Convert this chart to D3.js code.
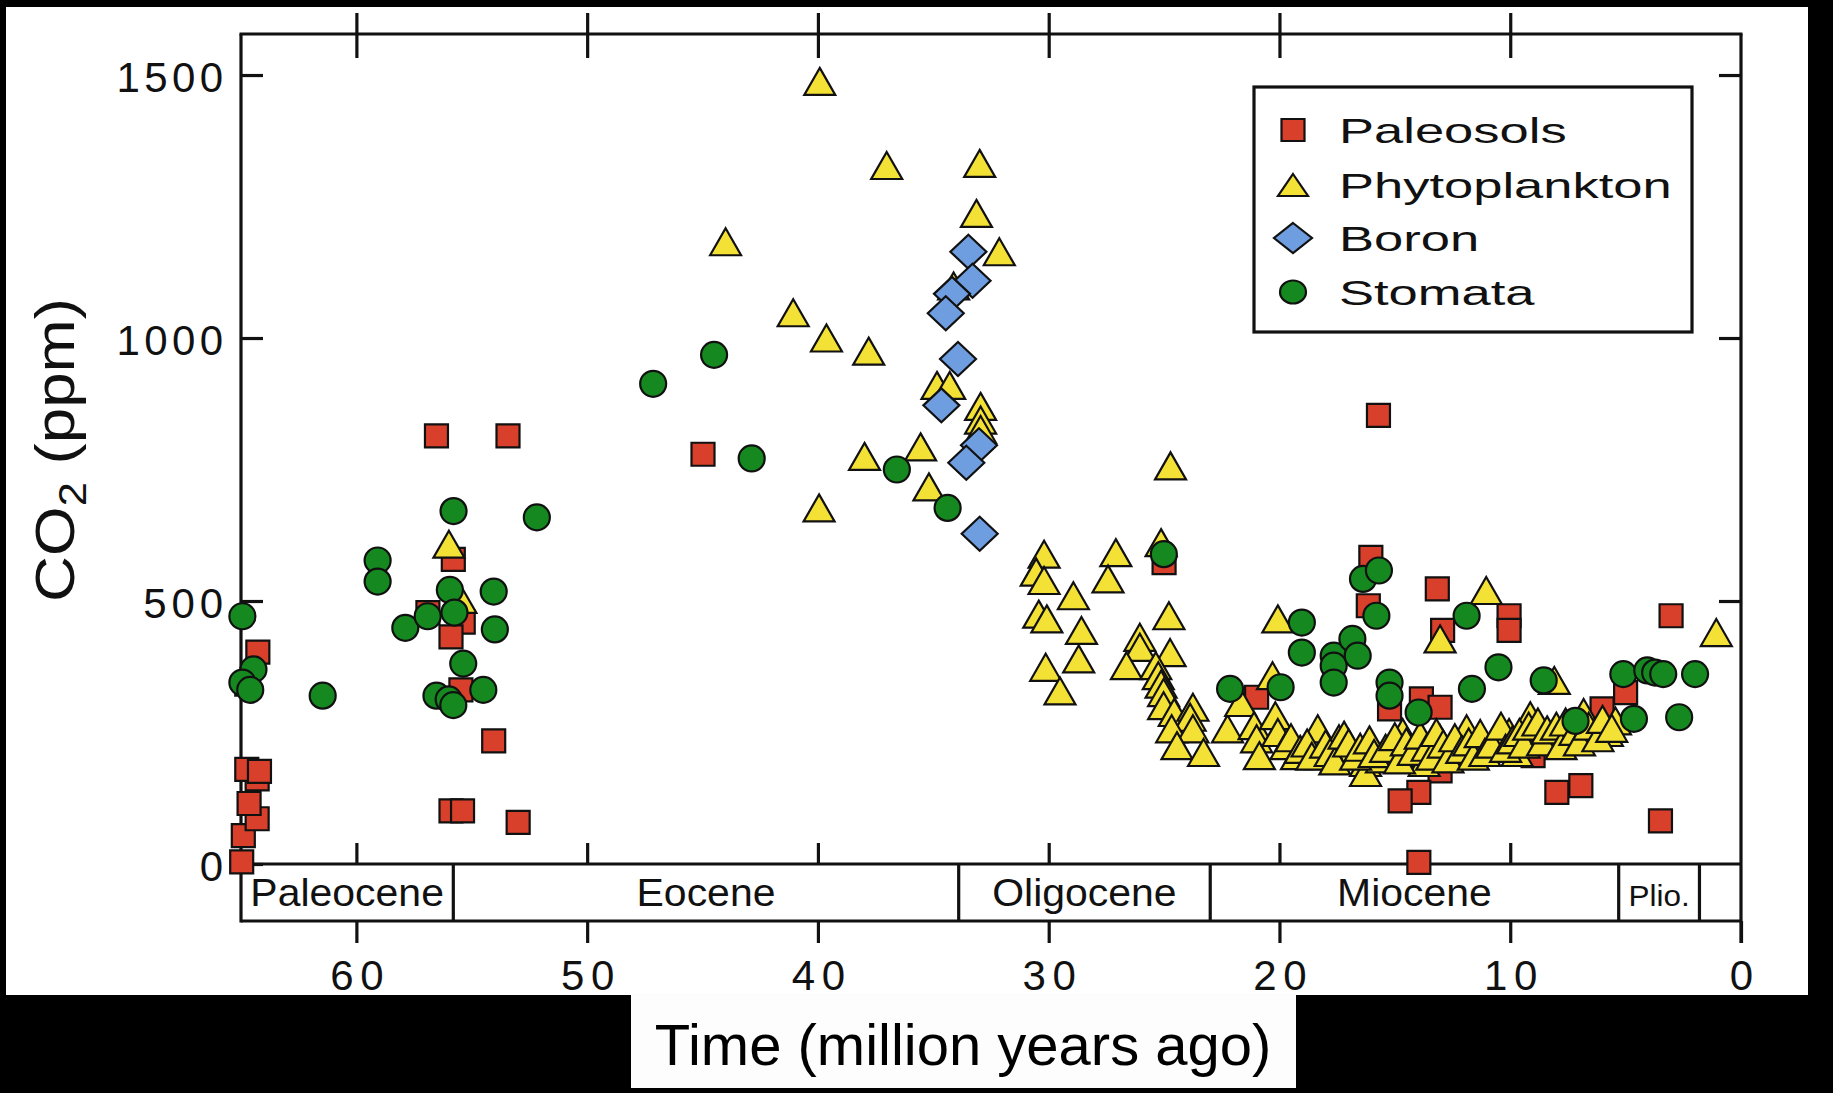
<!DOCTYPE html>
<html>
<head>
<meta charset="utf-8">
<script src="https://cdn.jsdelivr.net/npm/d3@7"></script>
<style>
  html, body { margin: 0; padding: 0; background: #000; }
  svg { display: block; font-family: "Liberation Sans", Arial, Helvetica, sans-serif; }
</style>
</head>
<body>
<svg id="chart" width="1833" height="1093"></svg>
<script>
// CO2 proxy records over the Cenozoic: [age (Ma), CO2 (ppm)]
const paleosols = [
  [64.97, 4], [64.9, 54], [64.3, 86], [64.65, 115], [64.3, 162], [64.75, 180], [64.2, 176],
  [64.75, 342], [64.27, 403],
  [56.53, 814], [53.43, 814], [55.8, 579], [56.9, 478], [55.37, 460], [55.9, 432], [55.47, 331],
  [54.05, 234], [55.9, 101], [55.4, 101], [52.99, 79],
  [44.98, 779], [25.0, 573],
  [20.99, 317], [15.71, 853], [16.04, 583], [16.15, 491], [13.16, 523], [10.05, 472], [10.05, 444],
  [12.93, 444], [15.23, 295], [13.85, 314], [13.04, 298], [14.42, 206], [13.04, 177], [13.96, 136],
  [14.77, 120], [9.01, 206], [7.98, 136], [6.94, 149], [6.02, 295], [5.0, 326], [3.03, 472],
  [3.49, 82], [13.96, 3]
];

const phytoplankton = [
  [55.99, 608], [55.47, 503],
  [39.92, 1488], [37.02, 1328], [32.99, 1332], [33.13, 1237], [44.0, 1183], [32.14, 1164],
  [34.12, 1099], [41.07, 1048], [39.63, 1000], [37.8, 975], [34.84, 910], [34.29, 910],
  [32.95, 870], [32.95, 844], [32.95, 826], [35.55, 793], [37.98, 775], [35.19, 717], [39.95, 677],
  [24.72, 757], [30.2, 589], [27.09, 592], [25.13, 611], [30.54, 555], [30.2, 539], [27.43, 542],
  [28.93, 510], [30.43, 475], [30.08, 466], [24.79, 472], [28.58, 444], [26.05, 431], [26.05, 412],
  [24.74, 402], [28.7, 390], [26.63, 377], [30.13, 374], [29.51, 329], [25.36, 377], [25.25, 358],
  [25.13, 342], [25.02, 326], [25.02, 301], [24.56, 288], [23.75, 298], [23.87, 279], [24.67, 257],
  [23.75, 257], [24.44, 225], [23.29, 212],
  [22.25, 257], [21.68, 307], [21.1, 263], [20.99, 238], [20.87, 206], [20.3, 358], [20.07, 466],
  [20.18, 282], [20.07, 250], [19.72, 225], [19.26, 206], [18.34, 257], [18.22, 206], [17.42, 238],
  [16.96, 212], [16.27, 193], [16.27, 174], [15.58, 200], [15.12, 225], [14.66, 250], [13.97, 212],
  [13.73, 193], [13.04, 238], [13.04, 428], [12.47, 212], [11.89, 257], [11.43, 225], [11.04, 520],
  [10.62, 238], [10.05, 250], [9.7, 212], [9.13, 282], [8.9, 250], [8.2, 238], [8.09, 349],
  [7.52, 244], [6.82, 288], [6.36, 250], [5.79, 250], [5.44, 272], [1.07, 440],
  [19.5, 240], [19.1, 218], [18.8, 230], [18.6, 205], [18.0, 228], [17.8, 212], [17.6, 196],
  [17.2, 245], [17.0, 230], [16.7, 205], [16.5, 222], [16.1, 236], [15.9, 210], [15.4, 220],
  [15.0, 242], [14.8, 198], [14.5, 232], [14.2, 214], [13.9, 245], [13.6, 222], [13.4, 205],
  [13.2, 250], [12.9, 228], [12.7, 200], [12.4, 240], [12.1, 218], [11.8, 232], [11.6, 205],
  [11.3, 248], [11.1, 212], [10.8, 228], [10.4, 262], [10.2, 220], [9.9, 236], [9.6, 250],
  [9.4, 228], [9.2, 262], [8.8, 270], [8.6, 232], [8.4, 255], [8.0, 262], [7.8, 225], [7.6, 270],
  [7.2, 252], [7.0, 232], [6.6, 262], [6.2, 240], [6.0, 275], [5.6, 258]
];

const boron = [
  [33.48, 1164], [33.3, 1109], [34.19, 1084], [34.46, 1047], [33.93, 960], [34.65, 872],
  [33.02, 796], [33.57, 763], [32.99, 628]
];

const stomata = [
  [64.94, 471], [64.46, 370], [64.94, 345], [64.6, 331], [61.46, 320], [59.08, 577], [59.08, 537],
  [57.88, 449], [56.91, 471], [55.95, 521], [55.75, 478], [55.79, 671], [54.05, 518], [54.0, 446],
  [55.37, 381], [56.53, 320], [56.0, 313], [55.8, 302], [54.5, 331], [52.18, 659], [47.14, 913],
  [44.5, 968], [42.87, 771], [36.58, 750], [34.38, 677], [25.01, 589], [22.14, 333], [19.95, 336],
  [19.03, 459], [19.03, 402], [17.65, 396], [17.65, 377], [17.65, 345], [16.84, 428], [16.61, 396],
  [16.38, 542], [15.69, 558], [15.8, 472], [15.23, 345], [15.23, 320], [13.97, 288], [11.89, 472],
  [11.66, 333], [10.51, 374], [8.55, 349], [7.17, 272], [5.1, 361], [4.64, 276], [4.06, 368],
  [3.72, 364], [3.37, 361], [2.68, 279], [1.99, 361]
];

const seriesNames = ["Paleosols", "Phytoplankton", "Boron", "Stomata"];
const xTicks = [60, 50, 40, 30, 20, 10, 0];
const yTicks = [0, 500, 1000, 1500];
const epochNames = ["Paleocene", "Eocene", "Oligocene", "Miocene", "Plio.", ""];
const epochBounds = [65, 55.8, 33.9, 23.0, 5.3, 1.8, 0];

// ---- layout ----
const P = { left: 241, right: 1741, top: 34, bottom: 864, band: 921 };
const INK = "#111";
const LW = 3.2;

const svg = d3.select("#chart");

// paper panels
svg.append("rect").attr("x", 6).attr("y", 7).attr("width", 1802).attr("height", 988).attr("fill", "#fff");
svg.append("rect").attr("x", 631).attr("y", 993).attr("width", 665).attr("height", 95).attr("fill", "#fdfdfd");

const x = d3.scaleLinear().domain([65, 0]).range([P.left, P.right]);
const y = d3.scaleLinear().domain([0, 1578]).range([P.bottom, P.top]);

// widen a text run to k times its natural length
function stretch(sel, k, mode) {
  sel.each(function () {
    const L = this.getComputedTextLength();
    if (L > 0) d3.select(this).attr("textLength", L * k).attr("lengthAdjust", mode || "spacingAndGlyphs");
  });
}

function styleAxis(g) {
  g.select(".domain").remove();
  g.selectAll(".tick line").attr("stroke", INK).attr("stroke-width", LW);
  g.selectAll(".tick text").attr("fill", INK).attr("font-size", 42)
    .attr("font-family", "Liberation Sans, Arial, sans-serif");
}

// left axis with inward ticks
const gl = svg.append("g").attr("transform", `translate(${P.left},0)`)
  .call(d3.axisLeft(y).tickValues(yTicks).tickSize(-22).tickPadding(18).tickFormat(d3.format("d")));
styleAxis(gl);
gl.selectAll(".tick text").attr("dy", "0.4em");
stretch(gl.selectAll(".tick text"), 1.14, "spacing");

// right axis, inward ticks
const gr = svg.append("g").attr("transform", `translate(${P.right},0)`)
  .call(d3.axisRight(y).tickValues([500, 1000, 1500]).tickSize(-22).tickFormat(""));
styleAxis(gr);

// top axis: ticks crossing the frame
const innerTicks = xTicks.filter(d => d !== 0);
const gt1 = svg.append("g").attr("transform", `translate(0,${P.top})`)
  .call(d3.axisTop(x).tickValues(innerTicks).tickSize(21).tickFormat(""));
styleAxis(gt1);
const gt2 = svg.append("g").attr("transform", `translate(0,${P.top})`)
  .call(d3.axisBottom(x).tickValues(innerTicks).tickSize(24).tickFormat(""));
styleAxis(gt2);

// bottom: inward ticks above the epoch band, labelled ticks below it
const gb1 = svg.append("g").attr("transform", `translate(0,${P.bottom})`)
  .call(d3.axisTop(x).tickValues(innerTicks).tickSize(21).tickFormat(""));
styleAxis(gb1);
const gb2 = svg.append("g").attr("transform", `translate(0,${P.band})`)
  .call(d3.axisBottom(x).tickValues(xTicks).tickSize(22).tickPadding(17).tickFormat(d3.format("d")));
styleAxis(gb2);
stretch(gb2.selectAll(".tick text"), 1.14, "spacing");

// frame and epoch band
const frame = svg.append("g").attr("stroke", INK).attr("stroke-width", LW).attr("fill", "none");
frame.append("line").attr("x1", P.left - 1.5).attr("x2", P.right + 1.5).attr("y1", P.top).attr("y2", P.top);
frame.append("line").attr("x1", P.left).attr("x2", P.left).attr("y1", P.top).attr("y2", P.band + 1.5);
frame.append("line").attr("x1", P.right).attr("x2", P.right).attr("y1", P.top).attr("y2", P.band + 22);
frame.append("line").attr("x1", P.left).attr("x2", P.right).attr("y1", P.bottom).attr("y2", P.bottom);
frame.append("line").attr("x1", P.left).attr("x2", P.right).attr("y1", P.band).attr("y2", P.band);
frame.selectAll("line.div").data(epochBounds.slice(1, -1)).enter().append("line")
  .attr("x1", d => x(d)).attr("x2", d => x(d)).attr("y1", P.bottom).attr("y2", P.band);

const epochData = epochNames.map((n, i) => ({ name: n, a: epochBounds[i], b: epochBounds[i + 1] }))
  .filter(d => d.name);
const et = svg.append("g").selectAll("text").data(epochData).enter().append("text")
  .attr("x", d => (x(d.a) + x(d.b)) / 2).attr("y", 906)
  .attr("text-anchor", "middle").attr("font-size", d => d.name === "Plio." ? 30 : 39)
  .attr("fill", INK).text(d => d.name);
stretch(et, 1.05);

// axis titles
const yt = svg.append("text").attr("transform", "translate(74,450) rotate(-90)")
  .attr("text-anchor", "middle").attr("font-size", 56).attr("fill", INK);
yt.append("tspan").text("CO");
yt.append("tspan").attr("font-size", 38).attr("dy", 12).text("2");
yt.append("tspan").attr("dy", -12).text(" (ppm)");
{
  const L = yt.node().getComputedTextLength();
  const k = 304 / L;
  yt.attr("transform", `translate(74,450) rotate(-90) scale(${k},1)`);
}

svg.append("text").attr("x", 963).attr("y", 1065).attr("text-anchor", "middle")
  .attr("font-size", 58).attr("fill", "#000").text("Time (million years ago)");

// marker shapes, centred on the origin
function shape(kind, w, h) {
  const a = w / 2, b = h / 2;
  switch (kind) {
    case "square": return `M${-a},${-b}H${a}V${b}H${-a}Z`;
    case "triangle": return `M0,${-b}L${a},${b}L${-a},${b}Z`;
    case "diamond": return `M0,${-b}L${a},0L0,${b}L${-a},0Z`;
    default: return `M${-a},0A${a},${b} 0 1,0 ${a},0A${a},${b} 0 1,0 ${-a},0Z`;
  }
}

const styles = [
  { name: seriesNames[0], data: paleosols, kind: "square", fill: "#d8402c", w: 23, h: 23, lw: 23, lh: 22 },
  { name: seriesNames[1], data: phytoplankton, kind: "triangle", fill: "#f4e136", w: 31, h: 27, lw: 30, lh: 22 },
  { name: seriesNames[2], data: boron, kind: "diamond", fill: "#6f9ee0", w: 36, h: 34, lw: 38, lh: 30 },
  { name: seriesNames[3], data: stomata, kind: "circle", fill: "#15891f", w: 26, h: 26, lw: 26, lh: 23 }
];

const marks = svg.append("g");
styles.forEach(s => {
  marks.append("g").selectAll("path").data(s.data).enter().append("path")
    .attr("d", shape(s.kind, s.w, s.h))
    .attr("transform", d => `translate(${x(d[0])},${y(d[1])})`)
    .attr("fill", s.fill).attr("stroke", INK).attr("stroke-width", 2.2)
    .attr("stroke-linejoin", "miter");
});

// legend
const lg = svg.append("g");
lg.append("rect").attr("x", 1254).attr("y", 87).attr("width", 438).attr("height", 245)
  .attr("fill", "#fff").attr("stroke", INK).attr("stroke-width", LW);
const rowY = [130, 185, 238, 292];
styles.forEach((s, i) => {
  lg.append("path").attr("d", shape(s.kind, s.lw, s.lh))
    .attr("transform", `translate(1293,${rowY[i]})`)
    .attr("fill", s.fill).attr("stroke", INK).attr("stroke-width", 2.2);
  const t = lg.append("text").attr("x", 1339).attr("y", rowY[i] + 13)
    .attr("font-size", 35).attr("fill", INK).text(s.name);
  stretch(t, 1.5);
});
</script>
</body>
</html>
